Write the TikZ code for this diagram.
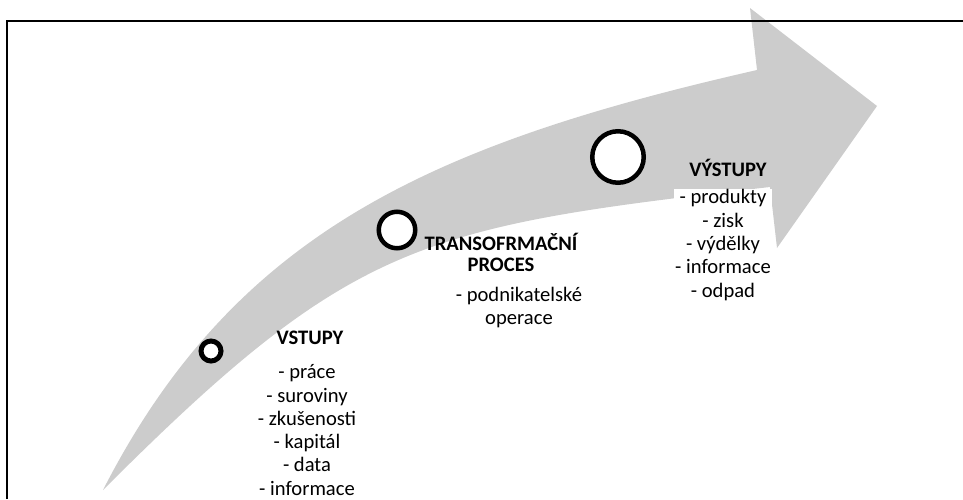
\documentclass[tikz,border=0pt]{standalone}
\usepackage{fontspec}
\setmainfont{Carlito}
\definecolor{arrowgrey}{RGB}{204,204,204}
\begin{document}
\begin{tikzpicture}[x=1pt,y=-1pt,
  ring/.style={circle,draw=black,fill=white,inner sep=0pt},
  ttl/.style={font=\fontsize{20.6}{21.5}\selectfont\bfseries,align=center,inner sep=0pt},
  itm/.style={font=\fontsize{20.6}{23.3}\selectfont,align=center,inner sep=1pt,fill=white}]
\useasboundingbox (0,0) rectangle (963,499);
% big curved arrow
\fill[arrowgrey] (103,490) .. controls (235,232) and (432,144) .. (757,70)
  -- (750,8) -- (877,106) -- (777,248) -- (770,187)
  .. controls (420,227) and (353,240) .. (103,490) -- cycle;
% frame
\draw[line width=2pt] (7,499) -- (7,21) -- (963,21);
% circles
\node[ring,line width=5pt,minimum size=20pt] (c1) at (211,351) {};
\node[ring,line width=4.5pt,minimum size=36.5pt] (c2) at (397,230) {};
\node[ring,line width=4.5pt,minimum size=51.5pt] (c3) at (618,157) {};
% texts
\node[ttl] (t1) at (310,338) {VSTUPY};
\node[itm] (i1) at (307,430) {- práce\\- suroviny\\- zkušenosti\\- kapitál\\- data\\- informace};
\node[ttl] (t2) at (501,252.5) {TRANSOFRMAČNÍ\\PROCES};
\node[itm,fill=none] (i2) at (519,307.5) {- podnikatelské\\operace};
\node[ttl] (t3) at (728,168) {VÝSTUPY};
\node[itm] (i3) at (723,245) {- produkty\\- zisk\\- výdělky\\- informace\\- odpad};
\end{tikzpicture}
\end{document}
